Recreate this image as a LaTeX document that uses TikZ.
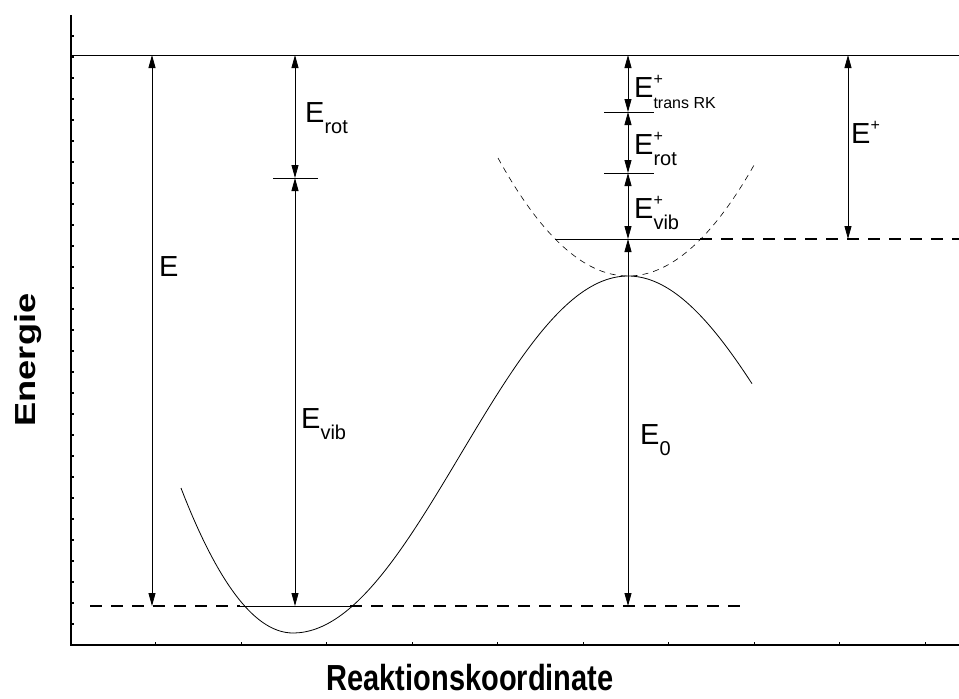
\documentclass[tikz,border=0pt]{standalone}
\usepackage{fontspec}
\setmainfont{Liberation Sans}
\usetikzlibrary{arrows.meta}
\newcommand{\supsz}{\fontsize{16}{16}\selectfont}
\newcommand{\subsz}{\fontsize{20}{20}\selectfont}
\newcommand{\rksz}{\fontsize{16}{16}\selectfont}
\newcommand{\lvlE}[2]{E\rlap{\raisebox{13pt}{\supsz #1}}\raisebox{-11pt}{#2}}
\begin{document}
\begin{tikzpicture}[x=1pt,y=-1pt,
  lvl/.style={<->,>={Triangle[length=13pt,width=7pt]},line width=0.8pt},
  thickdash/.style={line width=2.5pt,dash pattern=on 12pt off 9pt},
  txt/.style={font=\fontsize{29}{29}\selectfont,anchor=base west,inner sep=0pt},
  axlbl/.style={font=\fontsize{29}{29}\selectfont\bfseries,inner sep=0pt}]
\useasboundingbox (0,0) rectangle (959,699);
% axes
\draw[line width=2pt] (70.5,15) -- (70.5,645) -- (959,645);
\foreach \k in {1,...,29} \draw[line width=1.5pt] (70.5,{645-21*\k}) -- (73.5,{645-21*\k});
\foreach \k in {1,...,10} \draw[line width=0.6pt] ({70+85.5*\k},645) -- ({70+85.5*\k},642);
\node[axlbl,rotate=90] (ylab) at (28,360) {\scalebox{1.25}[1]{Energie}};
\node[axlbl,anchor=base] (xlab) at (470,690) {\scalebox{1}[1.25]{Reaktionskoordinate}};
% levels
\coordinate (eT) at (152,55); \coordinate (eB) at (152,606);
\coordinate (rT) at (295,55); \coordinate (rM) at (295,178); \coordinate (rB) at (295,606);
\coordinate (cT) at (628,55); \coordinate (c1) at (628,112); \coordinate (c2) at (628,173);
\coordinate (c3) at (628,239); \coordinate (c0) at (628,606);
\coordinate (pT) at (848,55); \coordinate (pB) at (848,239);
\draw[line width=0.8pt] (70,55) -- (959,55);
\draw[thickdash] (90,606) -- (240,606); \draw[thickdash] (350,606) -- (748,606);
\draw[thickdash] (700,239) -- (959,239);
\draw[line width=0.8pt] (240,606) -- (350,606); \draw[line width=0.8pt] (555,239) -- (700,239);
\draw[line width=0.8pt] (273,178) -- (318,178);
\draw[line width=0.8pt] (604,112) -- (654,112); \draw[line width=0.8pt] (604,173) -- (654,173);
% curves
\draw[line width=0.8pt] plot[domain=181:293,samples=30,smooth] (\x,{633-(0.1075*(\x-293))^2});
\draw[line width=0.8pt] plot[domain=293:752,samples=80,smooth] (\x,{454.5+178.5*cos(0.5373*(\x-293))});
\draw[line width=0.6pt,dash pattern=on 6pt off 5pt] plot[domain=498:755,samples=60,smooth] (\x,{276-(0.08355*(\x-628))^2});
% arrows
\draw[lvl] (eT) -- (eB);
\draw[lvl] (rT) -- (rM); \draw[lvl] (rM) -- (rB);
\draw[lvl] (cT) -- (c1); \draw[lvl] (c1) -- (c2); \draw[lvl] (c2) -- (c3); \draw[lvl] (c3) -- (c0);
\draw[lvl] (pT) -- (pB);
% labels
\node[txt] (lE) at (159,276) {E};
\node[txt] (lrot) at (305,122) {\lvlE{}{\subsz rot}};
\node[txt] (lvib) at (301,428) {\lvlE{}{\subsz vib}};
\node[txt] (lnull) at (640,444) {\lvlE{}{\subsz 0}};
\node[txt] (ltrans) at (634,97) {\lvlE{+}{\rksz trans RK}};
\node[txt] (lrotp) at (634,154) {\lvlE{+}{\subsz rot}};
\node[txt] (lvibp) at (634,218) {\lvlE{+}{\subsz vib}};
\node[txt] (lplus) at (851,143) {\lvlE{+}{}};
\end{tikzpicture}
\end{document}
